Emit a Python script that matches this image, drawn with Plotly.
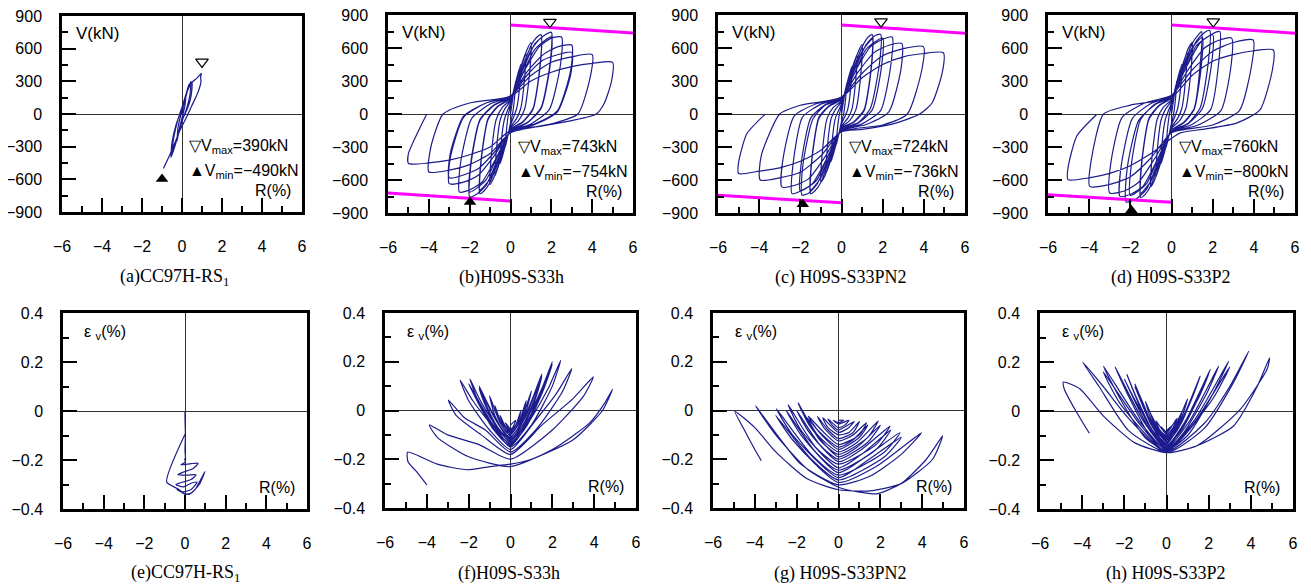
import plotly.graph_objects as go

# ── Figure size / styling ─────────────────────────────────────────────────────
W, H = 1311, 584
OFF = 8  # page body margin, compensated in pixel positions
BLUE = "#1c1c8c"
MAGENTA = "#ff00ff"
SANS = "Liberation Sans, Arial, sans-serif"
SERIF = "Liberation Serif, Times New Roman, serif"

# ── Data : [R(%), V(kN)] paths ───────────────────────────────────────────────
PATH_A = [
    (0, 0), (0.1, 100), (0.2, 180), (0.15, 80), (0.05, 0), (-0.1, -110), (-0.25, -250),
    (-0.2, -130), (-0.05, 0), (0.1, 90), (0.3, 230), (0.45, 300), (0.4, 180), (0.25, 60),
    (0.05, -40), (-0.2, -200), (-0.5, -380), (-0.45, -260), (-0.3, -120), (-0.1, 10),
    (0.1, 110), (0.35, 270), (0.5, 290), (0.45, 160), (0.25, 40), (0, -60), (-0.3, -250),
    (-0.55, -400), (-0.5, -260), (-0.3, -100), (-0.05, 30), (0.2, 180), (0.5, 290),
    (0.75, 330), (0.97, 373), (0.93, 340), (0.95, 300), (0.8, 200), (0.5, 80), (0.2, -40),
    (-0.1, -150), (-0.5, -330), (-0.93, -501),
]

PATH_B = [
    (0, 0),
    (0.25, 300), (0.2, 150), (0.1, 0), (0, -80), (-0.25, -300), (-0.2, -150), (-0.1, 0), (0, 80),
    (0.2, 250), (0.5, 450), (0.45, 250), (0.3, 50), (0.15, -30), (0, -100), (-0.2, -250),
    (-0.5, -450), (-0.45, -250), (-0.3, -50), (-0.15, 30), (0, 100),
    (0.3, 300), (0.75, 560), (0.7, 350), (0.5, 50), (0.3, -40), (0, -120), (-0.3, -300),
    (-0.75, -560), (-0.7, -350), (-0.5, -50), (-0.3, 40), (0, 120),
    (0.4, 350), (0.8, 580), (1.0, 650), (0.95, 400), (0.7, 50), (0.4, -60), (0, -130),
    (-0.4, -350), (-0.8, -570), (-1.0, -640), (-0.95, -400), (-0.7, -50), (-0.4, 60), (0, 130),
    (0.5, 380), (1.0, 620), (1.3, 700), (1.5, 720), (1.45, 450), (1.1, 50), (0.6, -70), (0, -140),
    (-0.5, -380), (-1.0, -620), (-1.3, -700), (-1.5, -724), (-1.45, -450), (-1.1, -50), (-0.6, 70), (0, 140),
    (0.5, 360), (1.0, 580), (1.5, 690), (1.45, 430), (1.1, 40), (0.6, -75), (0, -145),
    (-0.5, -360), (-1.0, -590), (-1.5, -690), (-1.45, -430), (-1.1, -40), (-0.6, 75), (0, 145),
    (0.6, 400), (1.2, 640), (1.7, 720), (2.0, 743), (1.95, 480), (1.5, 60), (0.8, -80), (0, -150),
    (-0.6, -400), (-1.2, -650), (-1.7, -735), (-2.0, -754), (-1.95, -480), (-1.5, -60), (-0.8, 80), (0, 150),
    (0.6, 370), (1.2, 590), (2.0, 700), (1.95, 450), (1.5, 50), (0.8, -85), (0, -155),
    (-0.6, -370), (-1.2, -600), (-2.0, -710), (-1.95, -450), (-1.5, -50), (-0.8, 85), (0, 155),
    (0.7, 400), (1.4, 610), (2.0, 690), (2.5, 700), (2.45, 450), (1.9, 40), (1.0, -90), (0, -160),
    (-0.7, -400), (-1.4, -620), (-2.0, -690), (-2.5, -709), (-2.45, -450), (-1.9, -40), (-1.0, 90), (0, 160),
    (0.8, 380), (1.6, 540), (2.3, 610), (3.0, 627), (2.95, 400), (2.3, 30), (1.2, -90), (0, -160),
    (-0.8, -380), (-1.6, -560), (-2.3, -620), (-3.0, -633), (-2.95, -400), (-2.3, -30), (-1.2, 100), (0, 160),
    (0.8, 350), (1.6, 490), (3.0, 560), (2.95, 360), (2.3, 20), (1.2, -95), (0, -165),
    (-0.8, -350), (-1.6, -500), (-3.0, -580), (-2.95, -360), (-2.3, -20), (-1.2, 100), (0, 165),
    (1.0, 350), (2.0, 470), (3.0, 520), (4.0, 540), (3.9, 330), (3.3, 0), (2.0, -90), (0, -170),
    (-1.0, -360), (-2.0, -460), (-3.0, -510), (-4.0, -527), (-3.9, -300), (-3.3, 0), (-2.0, 100), (0, 160),
    (1.0, 300), (2.0, 380), (3.0, 430), (4.0, 460), (5.0, 470), (4.95, 300), (4.6, 100), (4.2, 0),
    (3.0, -60), (1.5, -110), (0, -150), (-1.0, -300), (-2.0, -370), (-3.0, -420), (-4.0, -445),
    (-5.0, -450), (-5.0, -360), (-4.5, -150), (-4.1, 0),
]

PATH_C = [
    (0, 0),
    (0.25, 280), (0.2, 140), (0.1, 0), (0, -70), (-0.25, -280), (-0.2, -140), (-0.1, 0), (0, 70),
    (0.2, 230), (0.5, 430), (0.45, 240), (0.3, 40), (0.15, -30), (0, -90), (-0.2, -230),
    (-0.5, -430), (-0.45, -240), (-0.3, -40), (-0.15, 30), (0, 90),
    (0.3, 290), (0.75, 540), (0.7, 330), (0.5, 40), (0.3, -40), (0, -110), (-0.3, -290),
    (-0.75, -540), (-0.7, -330), (-0.5, -40), (-0.3, 40), (0, 110),
    (0.4, 340), (0.8, 560), (1.0, 630), (0.95, 390), (0.7, 40), (0.4, -60), (0, -120),
    (-0.4, -340), (-0.8, -560), (-1.0, -620), (-0.95, -390), (-0.7, -40), (-0.4, 60), (0, 120),
    (0.5, 370), (1.0, 610), (1.3, 700), (1.5, 720), (1.45, 440), (1.1, 40), (0.6, -70), (0, -130),
    (-0.5, -370), (-1.0, -620), (-1.3, -700), (-1.5, -724), (-1.45, -440), (-1.1, -40), (-0.6, 70), (0, 130),
    (0.5, 350), (1.0, 570), (1.5, 680), (1.45, 420), (1.1, 30), (0.6, -75), (0, -135),
    (-0.5, -350), (-1.0, -580), (-1.5, -690), (-1.45, -420), (-1.1, -30), (-0.6, 75), (0, 135),
    (0.6, 390), (1.2, 630), (1.6, 710), (1.9, 724), (1.85, 470), (1.4, 50), (0.8, -80), (0, -140),
    (-0.6, -390), (-1.2, -640), (-1.6, -720), (-1.92, -736), (-1.88, -470), (-1.4, -50), (-0.8, 80), (0, 140),
    (0.6, 360), (1.2, 590), (2.0, 690), (1.95, 440), (1.5, 40), (0.8, -85), (0, -145),
    (-0.6, -360), (-1.2, -600), (-2.0, -700), (-1.95, -440), (-1.5, -40), (-0.8, 85), (0, 145),
    (0.7, 400), (1.4, 610), (2.0, 680), (2.46, 700), (2.4, 450), (1.9, 30), (1.0, -90), (0, -150),
    (-0.7, -400), (-1.4, -630), (-2.0, -700), (-2.4, -724), (-2.35, -450), (-1.9, -30), (-1.0, 90), (0, 150),
    (0.8, 380), (1.6, 560), (2.3, 625), (2.93, 640), (2.9, 420), (2.3, 20), (1.2, -95), (0, -155),
    (-0.8, -390), (-1.6, -590), (-2.3, -650), (-2.9, -663), (-2.85, -420), (-2.3, -20), (-1.2, 95), (0, 155),
    (1.0, 370), (2.0, 530), (3.0, 595), (3.98, 612), (3.9, 400), (3.2, 0), (2.0, -100), (0, -160),
    (-1.0, -380), (-2.0, -530), (-3.0, -580), (-3.95, -600), (-3.9, -380), (-3.0, 0), (-2.0, 80), (0, 150),
    (1.0, 330), (2.0, 450), (3.0, 520), (4.0, 550), (4.95, 557), (4.9, 380), (4.4, 100), (3.8, 0),
    (2.5, -90), (1.0, -140), (0, -160), (-1.0, -330), (-2.0, -430), (-3.0, -490), (-4.0, -520),
    (-5.0, -541), (-5.0, -440), (-4.6, -180), (-3.7, 0),
]

PATH_D = [
    (0, 0),
    (0.25, 300), (0.2, 150), (0.1, 0), (0, -80), (-0.25, -300), (-0.2, -150), (-0.1, 0), (0, 80),
    (0.2, 250), (0.5, 450), (0.45, 250), (0.3, 50), (0.15, -30), (0, -100), (-0.2, -250),
    (-0.5, -450), (-0.45, -250), (-0.3, -50), (-0.15, 30), (0, 100),
    (0.3, 300), (0.75, 560), (0.7, 350), (0.5, 50), (0.3, -40), (0, -120), (-0.3, -300),
    (-0.75, -570), (-0.7, -350), (-0.5, -50), (-0.3, 40), (0, 120),
    (0.4, 350), (0.8, 590), (1.0, 650), (0.95, 400), (0.7, 50), (0.4, -60), (0, -130),
    (-0.4, -350), (-0.8, -590), (-1.0, -660), (-0.95, -400), (-0.7, -50), (-0.4, 60), (0, 130),
    (0.5, 390), (1.0, 640), (1.3, 720), (1.46, 749), (1.4, 460), (1.1, 50), (0.6, -75), (0, -145),
    (-0.5, -390), (-1.0, -650), (-1.3, -735), (-1.5, -760), (-1.45, -460), (-1.1, -50), (-0.6, 75), (0, 145),
    (0.5, 370), (1.0, 600), (1.5, 700), (1.45, 440), (1.1, 40), (0.6, -80), (0, -150),
    (-0.5, -370), (-1.0, -610), (-1.5, -720), (-1.45, -440), (-1.1, -40), (-0.6, 80), (0, 150),
    (0.6, 410), (1.2, 660), (1.6, 740), (1.86, 760), (1.8, 490), (1.4, 60), (0.8, -85), (0, -155),
    (-0.6, -410), (-1.2, -680), (-1.7, -770), (-2.2, -800), (-2.15, -490), (-1.6, -60), (-0.8, 85), (0, 155),
    (0.6, 380), (1.2, 620), (2.0, 720), (1.95, 460), (1.5, 50), (0.8, -90), (0, -160),
    (-0.6, -380), (-1.2, -630), (-2.0, -740), (-1.95, -460), (-1.5, -50), (-0.8, 90), (0, 160),
    (0.7, 420), (1.4, 650), (2.0, 730), (2.35, 749), (2.3, 480), (1.9, 40), (1.0, -95), (0, -165),
    (-0.7, -420), (-1.4, -660), (-2.0, -730), (-2.5, -749), (-2.45, -480), (-1.9, -40), (-1.0, 95), (0, 165),
    (0.8, 400), (1.6, 600), (2.3, 670), (2.92, 690), (2.9, 450), (2.4, 30), (1.3, -100), (0, -170),
    (-0.8, -400), (-1.6, -620), (-2.3, -700), (-3.0, -718), (-2.95, -450), (-2.4, -30), (-1.3, 100), (0, 170),
    (1.0, 400), (2.0, 570), (3.0, 650), (3.97, 673), (3.9, 450), (3.3, 30), (2.0, -100), (0, -170),
    (-1.0, -400), (-2.0, -570), (-3.0, -640), (-3.97, -658), (-3.9, -420), (-3.3, 0), (-2.0, 80), (0, 150),
    (1.0, 350), (2.0, 480), (3.0, 540), (4.0, 575), (4.95, 582), (4.9, 400), (4.3, 38), (3.16, -83),
    (1.5, -140), (0.4, -174), (-1.0, -360), (-2.0, -470), (-3.0, -540), (-4.0, -580),
    (-5.03, -597), (-5.03, -491), (-4.6, -200), (-3.65, -7),
]

# ── Data : [R(%), eps_v(%)] paths ─────────────────────────────────────────────
PATH_E = [
    (0, 0), (0, -0.03), (0.02, -0.1), (0, -0.16), (0.02, -0.19), (-0.02, -0.2), (0.03, -0.19),
    (0, -0.21), (-0.2, -0.22), (0.3, -0.215), (0.65, -0.213), (0.4, -0.235), (-0.1, -0.25),
    (-0.35, -0.26), (0.1, -0.262), (0.55, -0.26), (0.3, -0.28), (-0.1, -0.29), (-0.45, -0.3),
    (-0.1, -0.31), (0.3, -0.295), (0.6, -0.29), (0.3, -0.32), (-0.1, -0.33), (-0.4, -0.32),
    (-0.1, -0.335), (0.2, -0.34), (0.5, -0.32), (0.98, -0.247), (0.7, -0.3), (0.3, -0.335),
    (0, -0.34), (-0.3, -0.32), (-0.9, -0.29), (0, -0.095),
]

PATH_F = [
    (0, -0.06),
    (0.25, -0.04), (0.1, -0.07), (0, -0.075), (-0.25, -0.05), (-0.1, -0.075), (0, -0.08),
    (0.25, -0.06), (0.5, 0.0), (0.35, -0.05), (0, -0.085), (-0.25, -0.065), (-0.5, -0.02), (-0.35, -0.06), (0, -0.09),
    (0.35, -0.06), (0.75, 0.04), (0.55, -0.03), (0.2, -0.08), (0, -0.095), (-0.35, -0.07), (-0.75, 0.02),
    (-0.55, -0.04), (-0.2, -0.09), (0, -0.1),
    (0.5, -0.04), (1.0, 0.08), (0.75, 0.0), (0.3, -0.08), (0, -0.105), (-0.5, -0.05), (-1.0, 0.06),
    (-0.75, -0.02), (-0.3, -0.09), (0, -0.11),
    (0.6, -0.04), (1.1, 0.06), (1.5, 0.15), (1.2, 0.06), (0.6, -0.06), (0, -0.115), (-0.6, -0.05),
    (-1.1, 0.03), (-1.5, 0.1), (-1.2, 0.03), (-0.6, -0.07), (0, -0.12),
    (0.7, -0.03), (1.5, 0.14), (1.2, 0.05), (0.6, -0.07), (0, -0.12), (-0.7, -0.04), (-1.5, 0.09),
    (-1.2, 0.02), (-0.6, -0.08), (0, -0.125),
    (0.8, -0.03), (1.5, 0.09), (2.0, 0.2), (1.6, 0.1), (0.8, -0.05), (0, -0.13), (-0.8, -0.05),
    (-1.5, 0.05), (-1.94, 0.13), (-1.6, 0.05), (-0.8, -0.07), (0, -0.135),
    (0.9, -0.03), (2.0, 0.19), (1.6, 0.09), (0.8, -0.06), (0, -0.14), (-0.9, -0.05), (-2.0, 0.11),
    (-1.6, 0.04), (-0.8, -0.08), (0, -0.145),
    (1.0, -0.03), (1.8, 0.09), (2.4, 0.206), (2.0, 0.1), (1.0, -0.06), (0, -0.15), (-1.0, -0.05),
    (-1.8, 0.04), (-2.41, 0.125), (-2.0, 0.04), (-1.0, -0.08), (0, -0.16),
    (1.2, -0.04), (2.2, 0.07), (2.93, 0.172), (2.5, 0.08), (1.3, -0.07), (0, -0.17), (-1.2, -0.08),
    (-2.2, -0.03), (-2.97, 0.043), (-2.6, -0.02), (-1.4, -0.1), (0, -0.18),
    (1.5, -0.06), (3.0, 0.05), (3.96, 0.138), (3.5, 0.06), (2.0, -0.08), (0, -0.2), (-1.5, -0.14),
    (-3.0, -0.1), (-3.88, -0.06), (-3.5, -0.11), (-2.0, -0.19), (0, -0.23),
    (2.0, -0.16), (3.8, -0.05), (4.5, 0.03), (4.88, 0.087), (4.4, 0.0), (3.0, -0.12), (1.0, -0.2),
    (0, -0.22), (-1.0, -0.23), (-2.1, -0.243), (-3.5, -0.22), (-4.92, -0.171), (-4.9, -0.21),
    (-4.5, -0.25), (-4.0, -0.305),
]

PATH_G = [
    (0, -0.04),
    (0.25, -0.04), (0, -0.05), (-0.25, -0.04), (0, -0.055),
    (0.5, -0.04), (0.3, -0.06), (0, -0.07), (-0.5, -0.035), (-0.3, -0.06), (0, -0.08),
    (0.75, -0.045), (0.5, -0.07), (0, -0.09), (-0.75, -0.03), (-0.5, -0.07), (0, -0.1),
    (0.5, -0.09), (1.0, -0.045), (0.7, -0.09), (0, -0.115), (-0.5, -0.08), (-1.0, -0.025), (-0.7, -0.07), (0, -0.125),
    (0.7, -0.1), (1.34, -0.05), (1.0, -0.1), (0, -0.14), (-0.7, -0.09), (-1.45, -0.023), (-1.0, -0.08), (0, -0.15),
    (0.7, -0.12), (1.4, -0.06), (1.0, -0.11), (0, -0.16), (-0.7, -0.11), (-1.5, -0.03), (-1.0, -0.1), (0, -0.17),
    (0.9, -0.13), (1.9, -0.043), (1.4, -0.11), (0, -0.18), (-0.9, -0.12), (-1.93, 0.031), (-1.4, -0.06), (0, -0.19),
    (0.9, -0.15), (2.0, -0.06), (1.4, -0.13), (0, -0.2), (-0.9, -0.14), (-2.0, 0.0), (-1.4, -0.09), (0, -0.21),
    (1.1, -0.16), (2.46, -0.064), (1.8, -0.14), (0, -0.22), (-1.1, -0.15), (-2.41, 0.024), (-1.8, -0.08), (0, -0.235),
    (1.1, -0.18), (2.5, -0.08), (1.8, -0.16), (0, -0.245), (-1.1, -0.17), (-2.5, 0.0), (-1.8, -0.1), (0, -0.255),
    (1.3, -0.19), (2.94, -0.091), (2.2, -0.17), (0, -0.265), (-1.3, -0.18), (-2.97, 0.007), (-2.2, -0.1), (0, -0.275),
    (1.3, -0.21), (3.0, -0.11), (2.2, -0.19), (0, -0.285), (-1.3, -0.2), (-3.0, -0.02), (-2.2, -0.12), (0, -0.295),
    (1.8, -0.23), (3.97, -0.091), (3.0, -0.18), (1.5, -0.27), (0, -0.305), (-1.8, -0.22), (-3.96, 0.018),
    (-3.0, -0.1), (-1.5, -0.24), (0, -0.315),
    (1.0, -0.335), (1.82, -0.342), (3.0, -0.3), (4.2, -0.2), (4.98, -0.104), (4.5, -0.2), (3.0, -0.3),
    (1.5, -0.33), (0, -0.325), (-1.5, -0.28), (-3.0, -0.17), (-4.0, -0.07), (-4.96, -0.003),
    (-4.5, -0.08), (-4.0, -0.16), (-3.69, -0.206),
]

PATH_H = [
    (0, -0.08),
    (0.25, -0.06), (0, -0.085), (-0.25, -0.065), (0, -0.09),
    (0.5, -0.03), (0.3, -0.07), (0, -0.095), (-0.5, -0.04), (-0.3, -0.08), (0, -0.1),
    (0.4, -0.06), (0.75, 0.0), (0.5, -0.06), (0, -0.105), (-0.4, -0.07), (-0.75, -0.01), (-0.5, -0.07), (0, -0.11),
    (0.5, -0.05), (1.0, 0.05), (0.7, -0.03), (0, -0.115), (-0.5, -0.06), (-1.0, 0.04), (-0.7, -0.04), (0, -0.12),
    (0.7, -0.04), (1.6, 0.142), (1.2, 0.05), (0.5, -0.08), (0, -0.125), (-0.7, -0.05), (-1.5, 0.11),
    (-1.1, 0.03), (-0.5, -0.09), (0, -0.13),
    (0.7, -0.05), (1.5, 0.12), (1.1, 0.03), (0, -0.135), (-0.7, -0.06), (-1.5, 0.1), (-1.1, 0.02), (0, -0.14),
    (0.9, -0.04), (2.08, 0.17), (1.6, 0.07), (0.7, -0.08), (0, -0.14), (-0.9, -0.05), (-1.88, 0.149),
    (-1.4, 0.05), (-0.6, -0.09), (0, -0.145),
    (0.9, -0.05), (2.0, 0.15), (1.5, 0.05), (0, -0.15), (-0.9, -0.06), (-2.0, 0.13), (-1.4, 0.03), (0, -0.15),
    (1.1, -0.04), (2.47, 0.183), (1.9, 0.07), (0.8, -0.09), (0, -0.155), (-1.1, -0.04), (-2.44, 0.18),
    (-1.8, 0.06), (-0.8, -0.1), (0, -0.155),
    (1.3, -0.04), (2.95, 0.203), (2.2, 0.07), (1.0, -0.1), (0, -0.16), (-1.3, -0.04), (-2.99, 0.183),
    (-2.2, 0.05), (-1.0, -0.11), (0, -0.16),
    (1.3, -0.05), (3.0, 0.18), (2.2, 0.05), (0, -0.165), (-1.3, -0.05), (-3.0, 0.16), (-2.2, 0.03), (0, -0.165),
    (1.8, -0.05), (3.0, 0.1), (3.9, 0.244), (3.2, 0.12), (1.8, -0.07), (0, -0.17), (-1.8, -0.03),
    (-3.0, 0.1), (-3.97, 0.199), (-3.2, 0.1), (-1.8, -0.08), (0, -0.17),
    (1.44, -0.142), (3.18, -0.061), (4.3, 0.1), (4.89, 0.217), (4.77, 0.17), (3.5, 0.007),
    (1.44, -0.142), (0, -0.17), (-1.5, -0.13), (-3.0, -0.02), (-4.1, 0.09), (-4.89, 0.118),
    (-4.85, 0.09), (-4.3, 0.0), (-3.66, -0.091),
]

# magenta reference lines: (R list, V list)
LIM_B = [([0, 6], [809, 736]), ([-6, 0], [-718, -791])]
LIM_C = [([0, 6], [809, 733]), ([-6, 0], [-739, -806])]
LIM_D = [([0, 6], [809, 734]), ([-6, 0], [-734, -803])]

# Vmax / Vmin marker locations and labels
VMAX_PT = {"a": (1.0, 478), "b": (1.93, 836), "c": (1.92, 839), "d": (2.03, 840)}
VMIN_PT = {"a": (-1.0, -597), "b": (-1.98, -800), "c": (-1.88, -821), "d": (-1.95, -876)}
VMAX_TXT = {"a": "390", "b": "743", "c": "724", "d": "760"}
VMIN_TXT = {"a": "−490", "b": "−754", "c": "−736", "d": "−800"}

CAPTIONS = {
    "a": "(a)CC97H-RS<sub>1</sub>", "b": "(b)H09S-S33h", "c": "(c) H09S-S33PN2", "d": "(d) H09S-S33P2",
    "e": "(e)CC97H-RS<sub>1</sub>", "f": "(f)H09S-S33h", "g": "(g) H09S-S33PN2", "h": "(h) H09S-S33P2",
}

# ── Panel layout (pixel boxes on the page: left, right, top, bottom) ──────────
PANELS = [
    dict(k="a", path=PATH_A, box=(62, 302, 16, 212), cap=(174, 277), top=True, lim=None),
    dict(k="b", path=PATH_B, box=(388, 633, 15, 213), cap=(511, 277), top=True, lim=LIM_B),
    dict(k="c", path=PATH_C, box=(718, 965, 15, 213), cap=(841, 277), top=True, lim=LIM_C),
    dict(k="d", path=PATH_D, box=(1048, 1295, 15, 213), cap=(1171, 277), top=True, lim=LIM_D),
    dict(k="e", path=PATH_E, box=(63, 307, 313, 509), cap=(185, 573), top=False, lim=None),
    dict(k="f", path=PATH_F, box=(385, 636, 313, 508), cap=(509, 573), top=False, lim=None),
    dict(k="g", path=PATH_G, box=(713, 964, 313, 508), cap=(841, 573), top=False, lim=None),
    dict(k="h", path=PATH_H, box=(1040, 1293, 313, 509), cap=(1166, 573), top=False, lim=None),
]


def fx(px):
    return (px - OFF) / W


def fy(py):
    return 1 - (py - OFF) / H


fig = go.Figure()
annotations = []
layout = {}

for i, p in enumerate(PANELS):
    n = "" if i == 0 else str(i + 1)
    xa, ya = "x" + n, "y" + n
    l, r, t, b = p["box"]

    xs = [pt[0] for pt in p["path"]]
    ys = [pt[1] for pt in p["path"]]
    fig.add_trace(go.Scatter(
        x=xs, y=ys, mode="lines", xaxis=xa, yaxis=ya,
        line=dict(color=BLUE, width=1.2, shape="spline", smoothing=0.6),
        showlegend=False, hoverinfo="skip",
    ))

    if p["lim"]:
        for lx, ly in p["lim"]:
            fig.add_trace(go.Scatter(
                x=lx, y=ly, mode="lines", xaxis=xa, yaxis=ya,
                line=dict(color=MAGENTA, width=3), showlegend=False, hoverinfo="skip",
            ))

    common_x = dict(
        domain=[fx(l), fx(r)], range=[-6, 6], anchor=ya, automargin=False,
        dtick=2, tick0=0, ticks="inside", ticklen=14, tickwidth=2, tickcolor="black",
        minor=dict(dtick=1, ticks="inside", ticklen=6, tickwidth=2, tickcolor="black", showgrid=False),
        showline=True, linewidth=2.5, linecolor="black", mirror=True,
        showgrid=False, zeroline=True, zerolinecolor="#333", zerolinewidth=1,
        tickfont=dict(family=SANS, size=16, color="black"), ticklabelstandoff=18,
        ticklabeloverflow="allow", fixedrange=True,
    )
    if p["top"]:
        yrng, ydt, ymn = [-900, 900], 300, 150
    else:
        yrng, ydt, ymn = [-0.4, 0.4], 0.2, 0.1
    common_y = dict(
        domain=[fy(b), fy(t)], range=yrng, anchor=xa, automargin=False,
        dtick=ydt, tick0=0, ticks="inside", ticklen=14, tickwidth=2, tickcolor="black",
        minor=dict(dtick=ymn, ticks="inside", ticklen=6, tickwidth=2, tickcolor="black", showgrid=False),
        showline=True, linewidth=2.5, linecolor="black", mirror=True,
        showgrid=False, zeroline=True, zerolinecolor="#333", zerolinewidth=1,
        tickfont=dict(family=SANS, size=16, color="black"), ticklabelstandoff=14,
        ticklabeloverflow="allow", fixedrange=True,
    )
    layout["xaxis" + n] = common_x
    layout["yaxis" + n] = common_y

    lab_font = dict(family=SANS, size=16, color="black")
    if p["top"]:
        k = p["k"]
        mx, my = VMAX_PT[k]
        nx, ny = VMIN_PT[k]
        fig.add_trace(go.Scatter(
            x=[mx], y=[my], mode="markers", xaxis=xa, yaxis=ya,
            marker=dict(symbol="triangle-down-open", size=11, color="black", line=dict(width=1.2)),
            showlegend=False, hoverinfo="skip",
        ))
        fig.add_trace(go.Scatter(
            x=[nx], y=[ny], mode="markers", xaxis=xa, yaxis=ya,
            marker=dict(symbol="triangle-up", size=11, color="black"),
            showlegend=False, hoverinfo="skip",
        ))
        annotations += [
            dict(xref=xa, yref=ya, x=-5.4, y=740, text="V(kN)", showarrow=False,
                 xanchor="left", font=dict(family=SANS, size=17, color="black")),
            dict(xref=xa, yref=ya, x=0.25, y=-300, text=f"▽V<sub>max</sub>={VMAX_TXT[k]}kN",
                 showarrow=False, xanchor="left", font=lab_font),
            dict(xref=xa, yref=ya, x=0.25, y=-530, text=f"▲V<sub>min</sub>={VMIN_TXT[k]}kN",
                 showarrow=False, xanchor="left", font=lab_font),
            dict(xref=xa, yref=ya, x=5.55, y=-705, text="R(%)", showarrow=False,
                 xanchor="right", font=lab_font),
        ]
    else:
        annotations += [
            dict(xref=xa, yref=ya, x=-5.05, y=0.322, text="ε <sub>v</sub>(%)", showarrow=False,
                 xanchor="left", font=lab_font),
            dict(xref=xa, yref=ya, x=5.5, y=-0.313, text="R(%)", showarrow=False,
                 xanchor="right", font=lab_font),
        ]

    cx, cy = p["cap"]
    annotations.append(dict(
        xref="paper", yref="paper", x=fx(cx), y=fy(cy), text=CAPTIONS[p["k"]],
        showarrow=False, xanchor="center", yanchor="middle",
        font=dict(family=SERIF, size=18, color="black"),
    ))

fig.update_layout(
    **layout,
    annotations=annotations,
    width=W, height=H,
    margin=dict(l=0, r=0, t=0, b=0),
    plot_bgcolor="white", paper_bgcolor="white",
    showlegend=False,
)

fig.write_html("out.html")
